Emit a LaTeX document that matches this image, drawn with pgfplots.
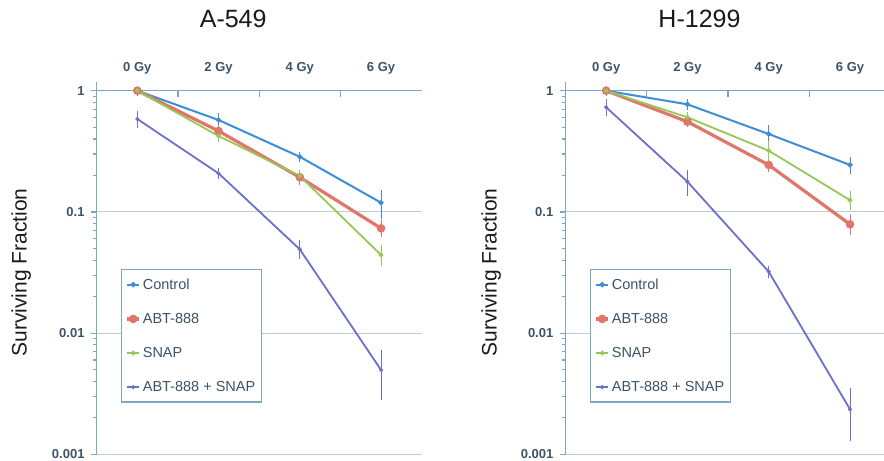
\documentclass[border=0pt]{standalone}
\usepackage{fontspec}
\setmainfont{Liberation Sans}
\usepackage{pgfplots}
\usepackage{pgfplotstable}
\pgfplotsset{compat=1.18}
\definecolor{axiscol}{HTML}{7FA6C2}
\definecolor{gridcol}{HTML}{BCCCD8}
\definecolor{labcol}{HTML}{3E5366}
\definecolor{txtcol}{HTML}{1A1A1A}
\definecolor{cctrl}{HTML}{3C8ED8}
\definecolor{cabt}{HTML}{E0756A}
\definecolor{csnap}{HTML}{95C857}
\definecolor{ccomb}{HTML}{6C70C8}

% A-549
\pgfplotstableread{
x y e
0 1.000 0.05
1 0.573 0.055
2 0.285 0.015
3 0.119 0.027
}\ctrlA
\pgfplotstableread{
x y e
0 1.000 0.04
1 0.465 0.03
2 0.193 0.018
3 0.0732 0.008
}\abtA
\pgfplotstableread{
x y e
0 1.000 0.03
1 0.423 0.025
2 0.198 0.012
3 0.0441 0.007
}\snapA
\pgfplotstableread{
x y e
0 0.584 0.07
1 0.208 0.012
2 0.0491 0.0065
3 0.00496 0.002
}\combA
% H-1299
\pgfplotstableread{
x y e
0 1.000 0.05
1 0.772 0.04
2 0.439 0.06
3 0.244 0.027
}\ctrlB
\pgfplotstableread{
x y e
0 1.000 0.03
1 0.555 0.03
2 0.244 0.02
3 0.079 0.012
}\abtB
\pgfplotstableread{
x y e
0 1.000 0.03
1 0.603 0.03
2 0.320 0.05
3 0.125 0.017
}\snapB
\pgfplotstableread{
x y e
0 0.730 0.08
1 0.1775 0.035
2 0.0321 0.002
3 0.00235 0.001
}\combB

\begin{document}
\begin{tikzpicture}
\useasboundingbox (0,0) rectangle (884bp,461bp);
\begin{axis}[
  width=325bp, xmax=3.5, at={(96.7bp,6.7bp)}, anchor=south west, title={A-549},
  scale only axis, height=363.6bp,
  ymode=log, ymin=0.001, ymax=1,
  xmin=-0.5,
  axis x line*=top, axis y line*=left,
  axis line style={axiscol, line width=1.2bp},
  xtick={0.5,1.5,2.5}, xticklabels={},
  xtick align=inside, ytick align=outside,
  ytick pos=left, yminorticks=true,
  major tick length=6bp, minor tick length=4bp,
  xtick style={axiscol, line width=1.2bp},
  ytick style={axiscol, line width=1.2bp},
  minor tick style={axiscol, line width=1bp},
  ytick={0.001,0.01,0.1,1}, yticklabels={0.001,0.01,0.1,1},
  minor ytick={0.002,0.003,0.004,0.005,0.006,0.007,0.008,0.009,
               0.02,0.03,0.04,0.05,0.06,0.07,0.08,0.09,
               0.2,0.3,0.4,0.5,0.6,0.7,0.8,0.9},
  ymajorgrids, major grid style={gridcol, line width=1bp},
  extra x ticks={0,1,2,3}, extra x tick labels={0 Gy,2 Gy,4 Gy,6 Gy},
  extra x tick style={major tick length=0pt, grid=none},
  /pgf/number format/assume math mode=true,
  xticklabel style={font=\fontsize{13bp}{15bp}\selectfont\bfseries, text=labcol, anchor=base, yshift=19bp},
  yticklabel style={font=\fontsize{13bp}{15bp}\selectfont\bfseries, text=labcol, anchor=east, inner sep=0pt, xshift=-6bp},
  title style={at={(axis description cs:0.42,1)}, anchor=base, yshift=57.7bp, font=\fontsize{25bp}{27bp}\selectfont, text=txtcol},
  ylabel={Surviving Fraction},
  ylabel style={at={(axis description cs:-0.2154,0.5)}, anchor=base, font=\fontsize{21bp}{23bp}\selectfont, text=txtcol},
  legend cell align=left,
  legend image code/.code={\draw[mark repeat=2,mark phase=2,#1] plot coordinates {(0bp,0bp)(6bp,0bp)(12bp,0bp)};},
  legend style={at={(0,1)}, anchor=north west, xshift=24.3bp, yshift=-178.3bp,
     draw=axiscol, line width=1.3bp, fill=white,
     font=\fontsize{14.5bp}{16bp}\selectfont, text=labcol,
     inner xsep=4bp, inner ysep=7bp, row sep=18.5bp},
  clip=false,
]
\draw[axiscol, line width=1.2bp] (axis description cs:0,1) -- ++(0bp,9bp);
\addplot[cctrl, line width=2bp, mark=*, mark size=1.5bp, error bars/.cd, y dir=both, y explicit, error bar style={line width=0.8bp}, error mark options={mark size=2.4bp, line width=0.8bp}] table[x=x,y=y,y error=e]{\ctrlA};
\addlegendentry{Control}
\addplot[cabt, line width=3.2bp, mark=*, mark size=2.6bp, error bars/.cd, y dir=both, y explicit, error bar style={line width=0.8bp}, error mark options={mark size=2.4bp, line width=0.8bp}] table[x=x,y=y,y error=e]{\abtA};
\addlegendentry{ABT-888}
\addplot[csnap, line width=1.8bp, mark=*, mark size=1.4bp, error bars/.cd, y dir=both, y explicit, error bar style={line width=0.8bp}, error mark options={mark size=2.4bp, line width=0.8bp}] table[x=x,y=y,y error=e]{\snapA};
\addlegendentry{SNAP}
\addplot[ccomb, line width=1.8bp, mark=*, mark size=1bp, error bars/.cd, y dir=both, y explicit, error bar style={line width=0.8bp}, error mark options={mark size=2.4bp, line width=0.8bp}] table[x=x,y=y,y error=e]{\combA};
\addlegendentry{ABT-888 + SNAP}
\end{axis}
\begin{axis}[
  width=319bp, xmax=3.424, at={(565.5bp,6.7bp)}, anchor=south west, title={H-1299},
  scale only axis, height=363.6bp,
  ymode=log, ymin=0.001, ymax=1,
  xmin=-0.5,
  axis x line*=top, axis y line*=left,
  axis line style={axiscol, line width=1.2bp},
  xtick={0.5,1.5,2.5}, xticklabels={},
  xtick align=inside, ytick align=outside,
  ytick pos=left, yminorticks=true,
  major tick length=6bp, minor tick length=4bp,
  xtick style={axiscol, line width=1.2bp},
  ytick style={axiscol, line width=1.2bp},
  minor tick style={axiscol, line width=1bp},
  ytick={0.001,0.01,0.1,1}, yticklabels={0.001,0.01,0.1,1},
  minor ytick={0.002,0.003,0.004,0.005,0.006,0.007,0.008,0.009,
               0.02,0.03,0.04,0.05,0.06,0.07,0.08,0.09,
               0.2,0.3,0.4,0.5,0.6,0.7,0.8,0.9},
  ymajorgrids, major grid style={gridcol, line width=1bp},
  extra x ticks={0,1,2,3}, extra x tick labels={0 Gy,2 Gy,4 Gy,6 Gy},
  extra x tick style={major tick length=0pt, grid=none},
  /pgf/number format/assume math mode=true,
  xticklabel style={font=\fontsize{13bp}{15bp}\selectfont\bfseries, text=labcol, anchor=base, yshift=19bp},
  yticklabel style={font=\fontsize{13bp}{15bp}\selectfont\bfseries, text=labcol, anchor=east, inner sep=0pt, xshift=-6bp},
  title style={at={(axis description cs:0.42,1)}, anchor=base, yshift=57.7bp, font=\fontsize{25bp}{27bp}\selectfont, text=txtcol},
  ylabel={Surviving Fraction},
  ylabel style={at={(axis description cs:-0.2163,0.5)}, anchor=base, font=\fontsize{21bp}{23bp}\selectfont, text=txtcol},
  legend cell align=left,
  legend image code/.code={\draw[mark repeat=2,mark phase=2,#1] plot coordinates {(0bp,0bp)(6bp,0bp)(12bp,0bp)};},
  legend style={at={(0,1)}, anchor=north west, xshift=24.5bp, yshift=-178.3bp,
     draw=axiscol, line width=1.3bp, fill=white,
     font=\fontsize{14.5bp}{16bp}\selectfont, text=labcol,
     inner xsep=4bp, inner ysep=7bp, row sep=18.5bp},
  clip=false,
]
\draw[axiscol, line width=1.2bp] (axis description cs:0,1) -- ++(0bp,9bp);
\addplot[cctrl, line width=2bp, mark=*, mark size=1.5bp, error bars/.cd, y dir=both, y explicit, error bar style={line width=0.8bp}, error mark options={mark size=2.4bp, line width=0.8bp}] table[x=x,y=y,y error=e]{\ctrlB};
\addlegendentry{Control}
\addplot[cabt, line width=3.2bp, mark=*, mark size=2.6bp, error bars/.cd, y dir=both, y explicit, error bar style={line width=0.8bp}, error mark options={mark size=2.4bp, line width=0.8bp}] table[x=x,y=y,y error=e]{\abtB};
\addlegendentry{ABT-888}
\addplot[csnap, line width=1.8bp, mark=*, mark size=1.4bp, error bars/.cd, y dir=both, y explicit, error bar style={line width=0.8bp}, error mark options={mark size=2.4bp, line width=0.8bp}] table[x=x,y=y,y error=e]{\snapB};
\addlegendentry{SNAP}
\addplot[ccomb, line width=1.8bp, mark=*, mark size=1bp, error bars/.cd, y dir=both, y explicit, error bar style={line width=0.8bp}, error mark options={mark size=2.4bp, line width=0.8bp}] table[x=x,y=y,y error=e]{\combB};
\addlegendentry{ABT-888 + SNAP}
\end{axis}
\end{tikzpicture}
\end{document}
